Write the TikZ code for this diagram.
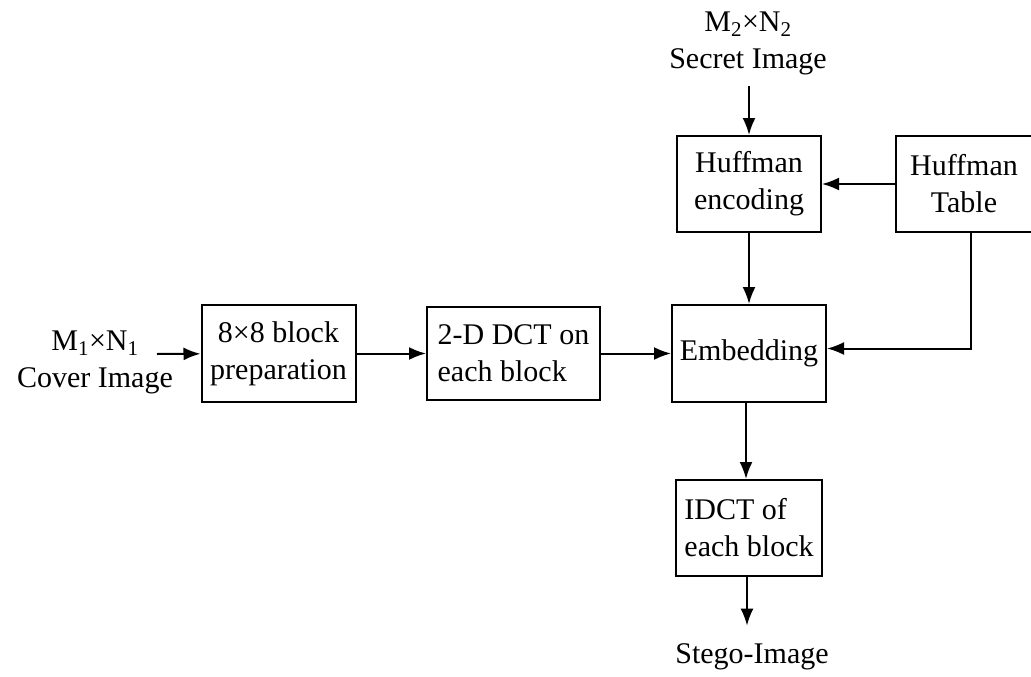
\documentclass[tikz,border=0pt]{standalone}
\usepackage{fontspec}
\setmainfont{Liberation Serif}
\usepackage{tikz}
\usetikzlibrary{arrows.meta}
\usetikzlibrary{calc}
\usetikzlibrary{positioning}

\begin{document}
\begin{tikzpicture}[x=1pt,y=1pt,>={Latex[length=17pt,width=13pt]},auto,node distance=235pt]
						\tikzstyle{blk}=[draw, rectangle, line width=2pt, inner sep=4pt, minimum width=154pt, minimum height=97pt]
						\tikzstyle{lbl}=[align=center, inner sep=2pt]
						\tikzstyle{conn}=[->, line width=2pt]
						\clip (0,0) rectangle (1031,-677);
						\fontsize{30}{37}\selectfont
						\node[blk, align=center] 	(prep) at (278.5,-353.5)   	{8×8 block\\preparation};
 					 	\node[blk, align=left, minimum width=173pt, minimum height=93pt] 	(dct) [right of=prep]     {2-D DCT on\\each block};
 					 	\node[blk] 		(embed) [right of=dct, node distance=235.5pt]  	{\raisebox{6pt}{Embedding}};
 					 	\node[blk, align=center, minimum width=144pt, minimum height=96pt] 	(huff) [above of=embed, node distance=169.5pt]  {Huffman\\encoding};
 					 	\node[blk, align=center, minimum width=136pt, minimum height=96pt] 	(table) [right of=huff, node distance=215pt]  {Huffman\\Table};
 					 	\node[blk, align=left, minimum width=146pt, minimum height=96pt] 	(idct) [below of=embed, node distance=174.5pt]  {IDCT of\\each block};
						\node[lbl] 		(cover) at (95,-362)   	{M\textsubscript{1}×N\textsubscript{1}\\Cover Image};
						\node[lbl] 		(secret) at (748,-43)   {M\textsubscript{2}×N\textsubscript{2}\\Secret Image};
						\node[lbl] 		(stego) at (752,-657)   {Stego-Image};
						\coordinate 	(cin) at (157,-354);
 				  \path[conn]
					 (cin) edge[conn] (prep)
			 		 (prep) edge[conn] (dct)
					 (dct) edge[conn] (embed)
					 (secret.south -| huff.north) edge[conn, shorten <=9pt] (huff.north)
					 (table) edge[conn] (huff)
					 (huff) edge[conn] (embed)
					 ([xshift=-3pt]embed.south) edge[conn] ([xshift=-3pt]idct.north)
					 ([xshift=-2pt]idct.south) edge[conn, shorten >=16pt] ([xshift=-2pt]idct.south |- stego.north);
				  \draw[conn] ([xshift=7pt]table.south) |- ([yshift=5pt]embed.east);
				\end{tikzpicture}
\end{document}
